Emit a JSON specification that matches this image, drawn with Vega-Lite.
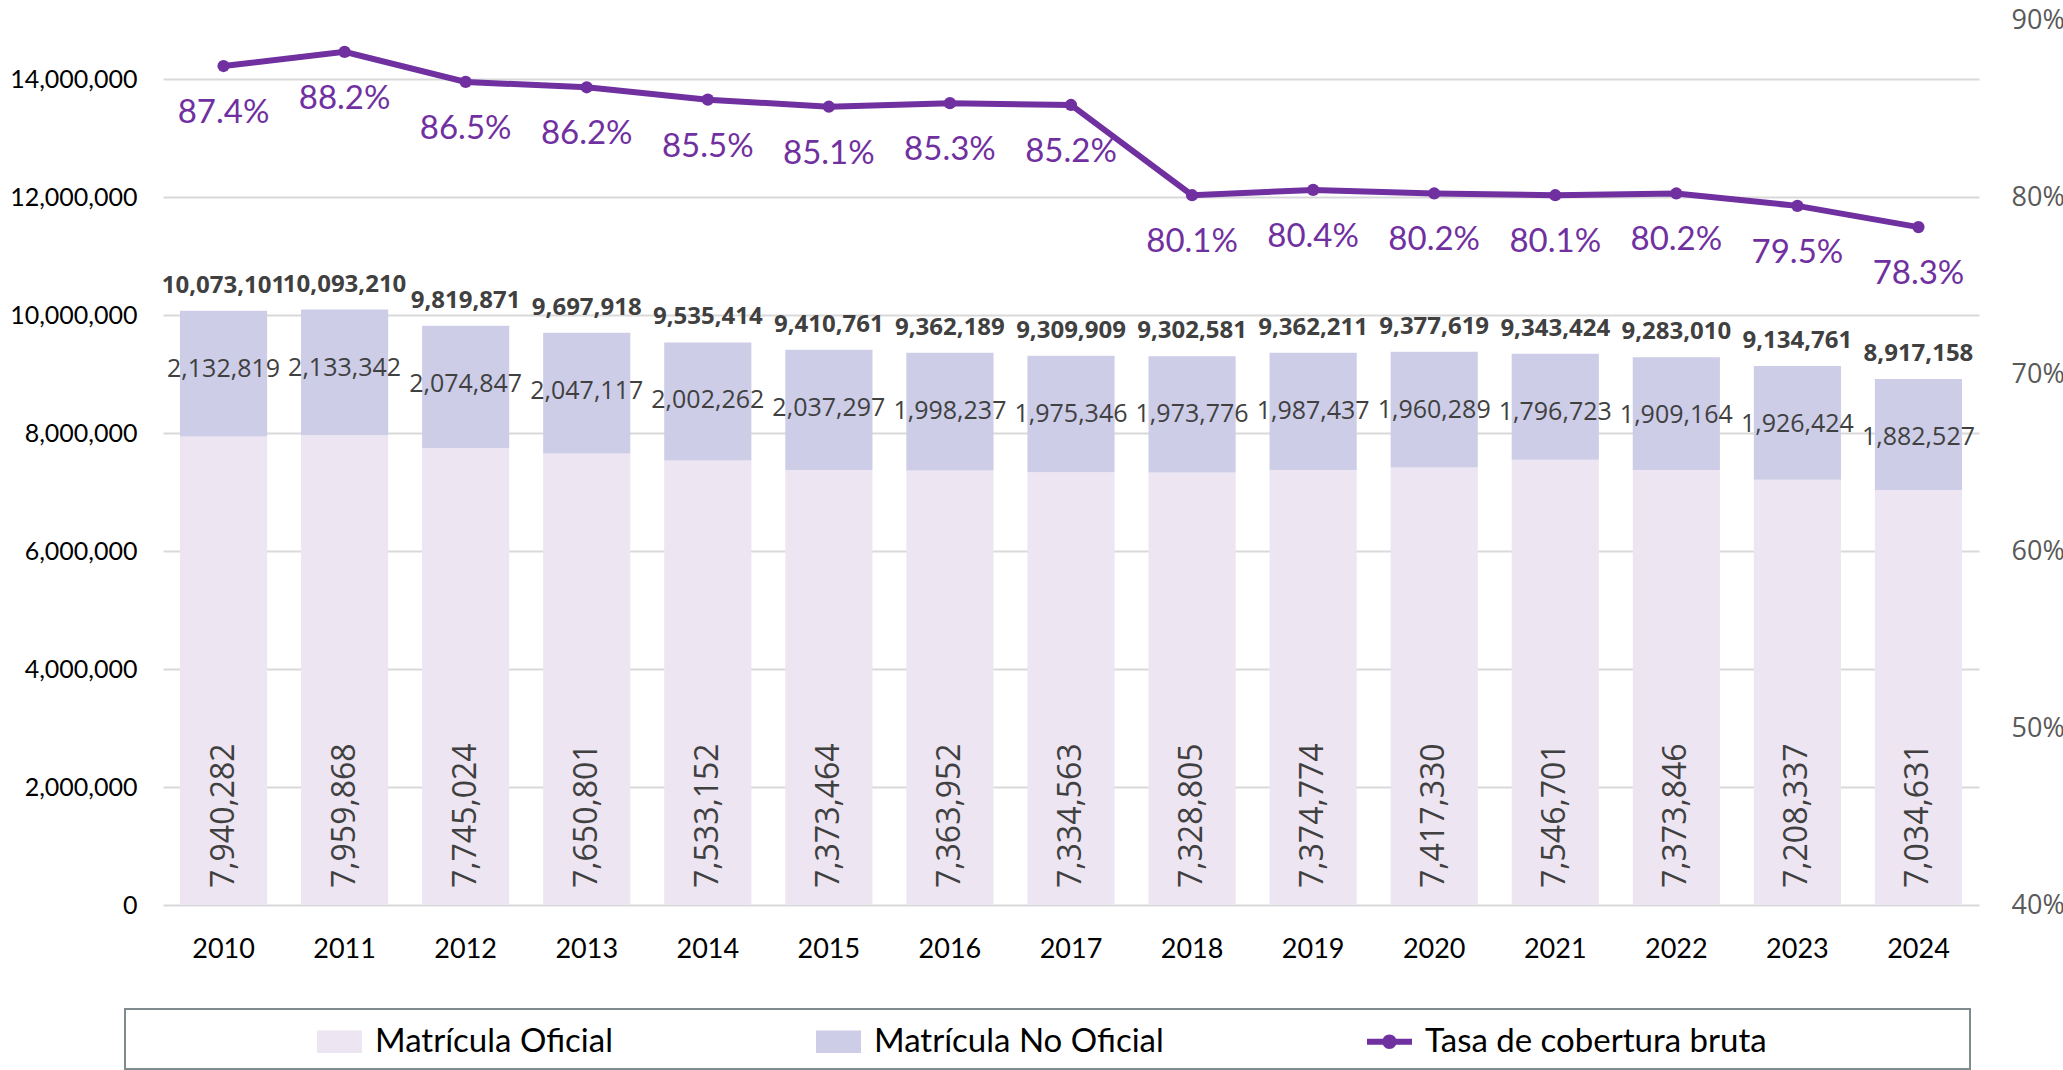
{
  "$schema": "https://vega.github.io/schema/vega-lite/v6.json",
  "autosize": {"type": "none"},
  "padding": {"left": 163, "top": 20, "right": 84, "bottom": 165},
  "width": 1816,
  "height": 885,
  "background": "white",
  "data": {
    "values": [
      {"year": "2010", "oficial": 7940282, "no_oficial": 2132819, "total": 10073101, "tasa": 0.874},
      {"year": "2011", "oficial": 7959868, "no_oficial": 2133342, "total": 10093210, "tasa": 0.882},
      {"year": "2012", "oficial": 7745024, "no_oficial": 2074847, "total": 9819871, "tasa": 0.865},
      {"year": "2013", "oficial": 7650801, "no_oficial": 2047117, "total": 9697918, "tasa": 0.862},
      {"year": "2014", "oficial": 7533152, "no_oficial": 2002262, "total": 9535414, "tasa": 0.855},
      {"year": "2015", "oficial": 7373464, "no_oficial": 2037297, "total": 9410761, "tasa": 0.851},
      {"year": "2016", "oficial": 7363952, "no_oficial": 1998237, "total": 9362189, "tasa": 0.853},
      {"year": "2017", "oficial": 7334563, "no_oficial": 1975346, "total": 9309909, "tasa": 0.852},
      {"year": "2018", "oficial": 7328805, "no_oficial": 1973776, "total": 9302581, "tasa": 0.801},
      {"year": "2019", "oficial": 7374774, "no_oficial": 1987437, "total": 9362211, "tasa": 0.804},
      {"year": "2020", "oficial": 7417330, "no_oficial": 1960289, "total": 9377619, "tasa": 0.802},
      {"year": "2021", "oficial": 7546701, "no_oficial": 1796723, "total": 9343424, "tasa": 0.801},
      {"year": "2022", "oficial": 7373846, "no_oficial": 1909164, "total": 9283010, "tasa": 0.802},
      {"year": "2023", "oficial": 7208337, "no_oficial": 1926424, "total": 9134761, "tasa": 0.795},
      {"year": "2024", "oficial": 7034631, "no_oficial": 1882527, "total": 8917158, "tasa": 0.783}
    ]
  },
  "encoding": {
    "x": {
      "field": "year",
      "type": "ordinal",
      "title": null,
      "scale": {"paddingInner": 0.28, "paddingOuter": 0.14},
      "axis": {"labelAngle": 0, "labelPadding": 31, "domain": false, "ticks": false, "labelFont": "Lato", "labelFontSize": 27, "labelColor": "#000000"}
    }
  },
  "layer": [
    {
      "layer": [
        {
          "mark": {"type": "bar"},
          "encoding": {
            "y": {"field": "oficial", "type": "quantitative", "title": null, "scale": {"domain": [0, 15000000], "nice": false},
              "axis": {"orient": "left", "values": [0, 2000000, 4000000, 6000000, 8000000, 10000000, 12000000, 14000000], "format": ",d", "grid": true, "gridColor": "#D9D9D9", "gridWidth": 2, "domain": false, "ticks": false, "labelPadding": 26, "labelFont": "Lato", "labelFontSize": 25, "labelColor": "#000000"}},
            "color": {
              "datum": "Matrícula Oficial",
              "scale": {"domain": ["Matrícula Oficial", "Matrícula No Oficial", "Tasa de cobertura bruta"], "range": ["#EDE5F2", "#CDCDE8", "#7030A0"]},
              "legend": {
                "title": " ",
                "titleOrient": "right",
                "titlePadding": 193,
                "orient": "none",
                "legendX": -38,
                "legendY": 989,
                "direction": "horizontal",
                "padding": 10,
                "symbolSize": 2025,
                "symbolType": "M-1,-0.5H1V0.5H-1Z",
                "symbolOffset": 182,
                "symbolStrokeWidth": 0,
                "columnPadding": 21,
                "labelOffset": 13,
                "labelLimit": 600,
                "labelFont": "Lato",
                "labelFontSize": 33,
                "labelColor": "#000000",
                "strokeColor": "#7F8C8D",
                "encode": {
                  "symbols": {"update": {"shape": {"signal": "datum.value === 'Tasa de cobertura bruta' ? 'M-1,-0.13H1V0.13H-1Z M-0.32,0A0.32,0.32 0 1 1 0.32,0A0.32,0.32 0 1 1 -0.32,0Z' : 'M-1,-0.5H1V0.5H-1Z'"}}},
                  "legend": {"update": {"strokeWidth": {"value": 2}}}
                }
              }
            }
          }
        },
        {
          "mark": {"type": "bar"},
          "encoding": {
            "y": {"field": "oficial", "type": "quantitative", "title": null},
            "y2": {"field": "total"},
            "color": {"datum": "Matrícula No Oficial"}
          }
        },
        {
          "mark": {"type": "text", "font": "Open Sans", "fontSize": 24, "fontWeight": "bold", "color": "#404040", "baseline": "alphabetic", "dy": -18},
          "encoding": {
            "y": {"field": "total", "type": "quantitative", "title": null},
            "text": {"field": "total", "format": ",d"}
          }
        },
        {
          "mark": {"type": "text", "font": "Open Sans", "fontSize": 25, "color": "#404040", "baseline": "middle", "dy": 58},
          "encoding": {
            "y": {"field": "total", "type": "quantitative", "title": null},
            "text": {"field": "no_oficial", "format": ",d"}
          }
        },
        {
          "mark": {"type": "text", "font": "Open Sans", "fontSize": 32, "color": "#404040", "baseline": "middle", "align": "left", "angle": 270, "dx": 17},
          "encoding": {
            "y": {"datum": 0, "type": "quantitative"},
            "text": {"field": "oficial", "format": ",d"}
          }
        }
      ]
    },
    {
      "layer": [
        {
          "mark": {"type": "line", "color": "#7030A0", "strokeWidth": 6},
          "encoding": {
            "y": {"field": "tasa", "type": "quantitative", "title": null, "scale": {"domain": [0.4, 0.9], "nice": false},
              "axis": {"orient": "right", "values": [0.4, 0.5, 0.6, 0.7, 0.8, 0.9], "format": ".0%", "grid": false, "domain": false, "ticks": false, "labelPadding": 32, "labelFont": "Open Sans", "labelFontSize": 27, "labelColor": "#595959"}}
          }
        },
        {
          "mark": {"type": "circle", "color": "#7030A0", "opacity": 1, "size": 150},
          "encoding": {
            "y": {"field": "tasa", "type": "quantitative", "title": null}
          }
        },
        {
          "mark": {"type": "text", "font": "Lato", "fontSize": 33, "color": "#7030A0", "baseline": "middle", "dy": 47},
          "encoding": {
            "y": {"field": "tasa", "type": "quantitative", "title": null},
            "text": {"field": "tasa", "format": ".1%"}
          }
        }
      ]
    }
  ],
  "resolve": {"scale": {"y": "independent"}},
  "config": {"view": {"stroke": null}}
}
